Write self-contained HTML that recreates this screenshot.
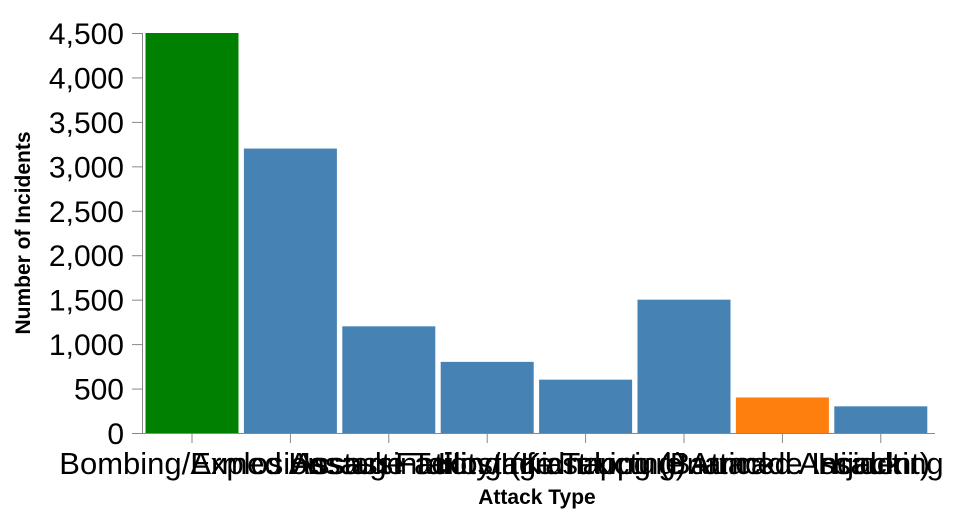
<!DOCTYPE html>
<html><head><meta charset="utf-8">
<style>
body{margin:0;background:#fff;}
svg{display:block;font-family:"Liberation Sans",Arial,sans-serif;}
</style></head>
<body>
<svg id="chart" width="954" height="518" viewBox="0 0 954 518"></svg>
<script>
const categories=["Bombing/Explosion","Armed Assault","Assassination","Hostage Taking (Kidnapping)","Facility/Infrastructure Attack","Hostage Taking (Barricade Incident)","Unarmed Assault","Hijacking"];
const values=[4500,3200,1200,800,600,1500,400,300];
const colors=["#008000","#4682b4","#4682b4","#4682b4","#4682b4","#4682b4","#ff7f0e","#4682b4"];
const yTicks=[0,500,1000,1500,2000,2500,3000,3500,4000,4500];
const NS="http://www.w3.org/2000/svg";
const svg=document.getElementById('chart');
const axX=142,axEnd=935,yTop=33,yBot=433,yMax=4500;
const c0=192,step=98.4,bw=93;
const y=v=>yBot-(v/yMax)*(yBot-yTop);
const xc=i=>c0+i*step;
function mk(t,a,p){const e=document.createElementNS(NS,t);for(const k in a)e.setAttribute(k,a[k]);(p||svg).appendChild(e);return e;}
const bars=mk('g',{});


values.forEach((v,i)=>{
  const r=mk('rect',{x:xc(i)-bw/2,y:y(v),width:bw,height:yBot-y(v),fill:colors[i]},bars);
  
  
});
const ya=mk('g',{});


mk('line',{x1:axX+0.5,x2:axX+0.5,y1:yTop,y2:yBot,stroke:'#888'},ya);
yTicks.forEach(t=>{
  mk('line',{x1:axX-10,x2:axX,y1:y(t)+0.5,y2:y(t)+0.5,stroke:'#888'},ya);
  const tx=mk('text',{x:axX-18,y:y(t)+11,'text-anchor':'end','font-size':30,fill:'#000'},ya);
  tx.textContent=t.toLocaleString('en-US');
  
  
});
const xa=mk('g',{});


mk('line',{x1:axX,x2:axEnd,y1:yBot+0.5,y2:yBot+0.5,stroke:'#888'},xa);
categories.forEach((c,i)=>{
  const cx=xc(i);
  mk('line',{x1:cx,x2:cx,y1:yBot,y2:yBot+10,stroke:'#888'},xa);
  const tx=mk('text',{x:cx,y:474,'text-anchor':'middle','font-size':31,fill:'#000'},xa);
  tx.textContent=c;
  
  
});
const xt=mk('text',{x:537,y:504,'text-anchor':'middle','font-size':21,'font-weight':'bold'});
xt.textContent='Attack Type';


const yt=mk('text',{x:0,y:0,'text-anchor':'middle','font-size':21,'font-weight':'bold',transform:'translate(30,'+((yTop+yBot)/2)+') rotate(-90)'});
yt.textContent='Number of Incidents';


</script>
</body></html>
